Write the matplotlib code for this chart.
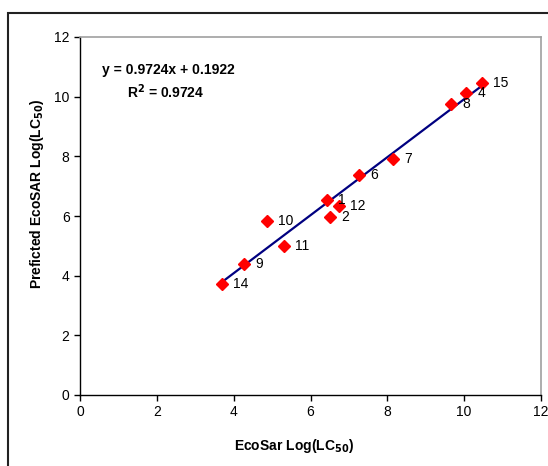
import matplotlib
matplotlib.use("Agg")
import matplotlib.pyplot as plt
from matplotlib.patches import Rectangle

plt.rcParams['font.family'] = ['Liberation Sans', 'DejaVu Sans']
plt.rcParams['mathtext.default'] = 'bf'

labels = ['14', '9', '11', '10', '2', '1', '12', '6', '7', '8', '4', '15']
x_vals = [3.69, 4.28, 5.31, 4.86, 6.51, 6.43, 6.74, 7.27, 8.14, 9.67, 10.05, 10.47]
y_vals = [3.72, 4.38, 4.99, 5.83, 5.97, 6.54, 6.35, 7.39, 7.91, 9.77, 10.11, 10.47]
slope, intercept = 0.9724, 0.1922
ticks = [0, 2, 4, 6, 8, 10, 12]

W, H = 548, 466
fig = plt.figure(figsize=(W / 100, H / 100), dpi=100)
ax = fig.add_axes([80 / W, 1 - 395 / H, (541 - 80) / W, (395 - 37) / H])

xmin, xmax = min(x_vals), max(x_vals)
ax.plot([xmin, xmax], [slope * xmin + intercept, slope * xmax + intercept],
        color='#000080', lw=1.6, zorder=2)
ax.plot(x_vals, y_vals, linestyle='none', marker='D', markersize=6,
        color='#FF0000', markeredgecolor='#FF0000', zorder=3)
for lx, ly, lab in zip(x_vals, y_vals, labels):
    ax.annotate(lab, (lx, ly), xytext=(8, 0), textcoords='offset points',
                ha='left', va='center', fontsize=10, color='#000000')

ax.set_xlim(0, 12)
ax.set_ylim(0, 12)
ax.set_xticks(ticks)
ax.set_yticks(ticks)
ax.tick_params(direction='out', length=4, width=1, labelsize=10, colors='black')
for s in ['left', 'bottom']:
    ax.spines[s].set_color('black')
    ax.spines[s].set_linewidth(1)
for s in ['top', 'right']:
    ax.spines[s].set_color('#A0A0A0')
    ax.spines[s].set_linewidth(1.2)

ax.set_xlabel('EcoSar Log(LC$_{50}$)', fontsize=10, fontweight='bold')
ax.xaxis.set_label_coords((294 - 80) / 461, -(437 - 395) / 358)
ax.set_ylabel('Preficted EcoSAR Log(LC$_{50}$)', fontsize=10, fontweight='bold')
ax.yaxis.set_label_coords((46 - 80) / 461, (395 - 194) / 358)

fig.text(168 / W, 1 - 70 / H, 'y = 0.9724x + 0.1922', ha='center', va='center',
         fontsize=10, fontweight='bold')
fig.text(166 / W, 1 - 92 / H, 'R$^{2}$ = 0.9724', ha='center', va='center',
         fontsize=10, fontweight='bold')

frame = Rectangle((8 / W, -0.2), 1.5, 1 - 13 / H + 0.2, transform=fig.transFigure,
                  fill=False, edgecolor='#222222', lw=1.5, clip_on=False)
fig.add_artist(frame)

fig.savefig('out.png', dpi=100, facecolor='white')
